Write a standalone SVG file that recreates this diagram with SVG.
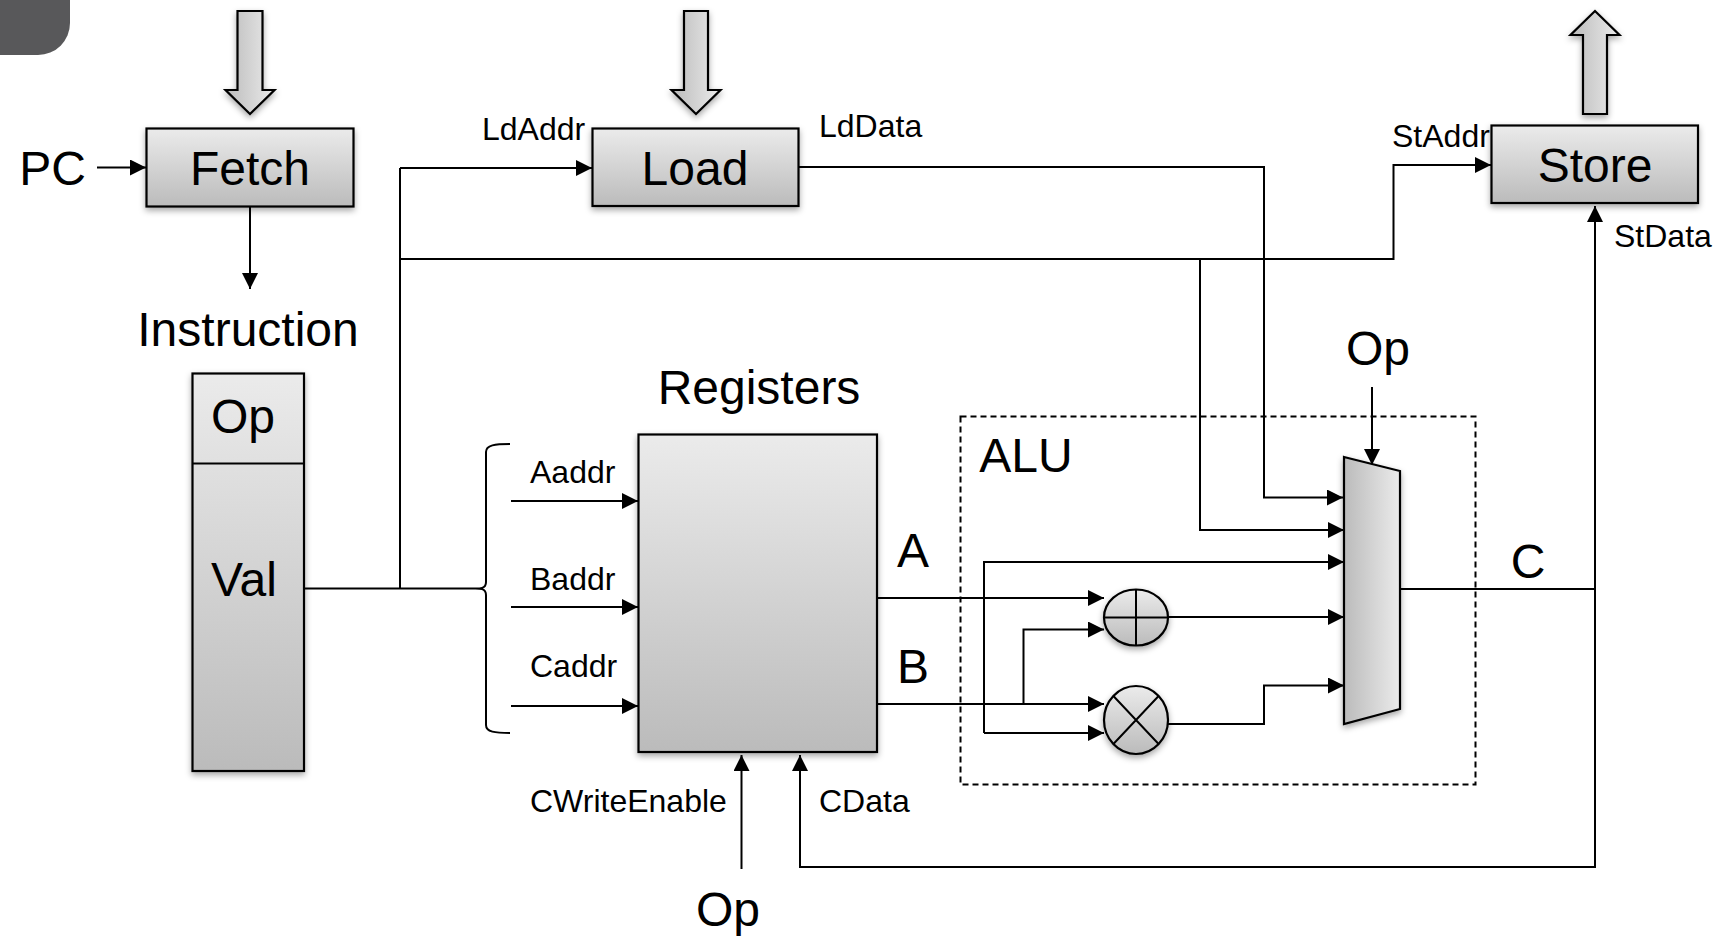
<svg xmlns="http://www.w3.org/2000/svg" width="1721" height="937" viewBox="0 0 1721 937">
<style>
text{font-family:"Liberation Sans",Arial,sans-serif;fill:#000}
.b{font-size:48px;text-anchor:middle}
.s{font-size:32px}
.n{stroke:#000;stroke-width:2.2;filter:url(#sh)}
.v{fill:url(#gv)}
.h{fill:url(#gh)}
.c{fill:none;stroke:#000;stroke-width:2}
.a{marker-end:url(#ah)}
.d{fill:none;stroke:#000;stroke-width:2}
</style>
<defs>
<linearGradient id="gv" x1="0" y1="0" x2="0" y2="1"><stop offset="0" stop-color="#ebebeb"/><stop offset="1" stop-color="#bbb"/></linearGradient>
<linearGradient id="gh" x1="0" y1="0" x2="1" y2="0"><stop offset="0" stop-color="#bbb"/><stop offset="1" stop-color="#ebebeb"/></linearGradient>
<filter id="sh" x="-20%" y="-20%" width="140%" height="140%"><feDropShadow dx="0" dy="3" stdDeviation="3" flood-color="#000" flood-opacity="0.35"/></filter>
<marker id="ah" markerUnits="userSpaceOnUse" markerWidth="17" markerHeight="17" refX="16" refY="8" orient="auto"><path d="M0 0L16 8L0 16Z" fill="#000"/></marker>
</defs>
<path id="corner" d="M0 0H70V23A32 32 0 0 1 38 55H0Z" fill="#58585a"/>
<g id="connectors">
<path class="c a" d="M97 167.500H146"/>
<path class="c a" d="M250 206V289"/>
<path class="c a" d="M400 168H592"/>
<path class="c" d="M304 588.500H470C478 588.500 486 590 486 582V452C486 445 495 444 510 444M470 588.500C478 588.500 486 587 486 595V725C486 732 495 733 510 733"/>
<path class="c" d="M400 168V588"/>
<path class="c a" d="M400 259H1393.500V165H1491"/>
<path class="c a" d="M798 167H1264V497.500H1343"/>
<path class="c a" d="M1200 259V530H1344"/>
<path class="c a" d="M984 733V562H1344"/>
<path class="c a" d="M984 733H1104"/>
<path class="c a" d="M877 598H1104"/>
<path class="c a" d="M877 704H1104"/>
<path class="c a" d="M1023.500 704V629.500H1104"/>
<path class="c a" d="M1168 617H1344"/>
<path class="c a" d="M1168 724H1264V685.500H1344"/>
<path class="c a" d="M1372 387V465"/>
<path class="c" d="M1400 589H1595"/>
<path class="c a" d="M1595 868V206"/>
<path class="c a" d="M1595 867H800V755"/>
<path class="c a" d="M741.500 869V755"/>
<path class="c a" d="M511 501H638"/>
<path class="c a" d="M511 607H638"/>
<path class="c a" d="M511 706H638"/>
</g>
<g id="fetch-arrow"><path class="n h" d="M237.500 11H262.500V90H274.500L250 114L225.500 90H237.500Z"/></g>
<g id="load-arrow"><path class="n h" d="M684 11H708V90H720.500L696 114L671.500 90H684Z"/></g>
<g id="store-arrow"><path class="n h" d="M1583 114H1607V35H1619.500L1595 11L1570.500 35H1583Z"/></g>
<g id="fetch"><rect class="n v" x="146.500" y="128.500" width="207" height="78"/><text class="b" x="250" y="185">Fetch</text></g>
<g id="load"><rect class="n v" x="592.500" y="128.500" width="206" height="77.500"/><text class="b" x="695" y="185">Load</text></g>
<g id="store"><rect class="n v" x="1491.500" y="125.500" width="206.500" height="77.500"/><text class="b" x="1595" y="182">Store</text></g>
<g id="instruction"><rect class="n v" x="192.500" y="373.500" width="111.500" height="397.500"/><path class="c" d="M192.500 463.500H304"/><text class="b" x="243" y="433">Op</text><text class="b" x="244" y="596">Val</text></g>
<g id="registers"><rect class="n v" x="638.500" y="434.500" width="238.500" height="317.500"/></g>
<g id="adder"><ellipse class="n v" cx="1136" cy="617.500" rx="32" ry="28"/><path class="d" d="M1104 617.500H1168M1136 589.500V645.500"/></g>
<g id="multiplier"><ellipse class="n v" cx="1136" cy="720" rx="32" ry="34"/><path class="d" d="M1113.400 696L1158.600 744M1158.600 696L1113.400 744"/></g>
<g id="mux"><path class="n h" d="M1344 457L1400 471V709L1344 724Z"/></g>
<g id="alu"><rect x="960.500" y="416.500" width="515" height="368" fill="none" stroke="#000" stroke-width="2" stroke-dasharray="6 4"/></g>
<g id="labels">
<text class="b" x="52.500" y="184.500">PC</text>
<text class="b" x="248" y="346">Instruction</text>
<text class="b" x="759" y="404">Registers</text>
<text class="b" x="1026" y="472">ALU</text>
<text class="b" x="913" y="567">A</text>
<text class="b" x="913" y="683">B</text>
<text class="b" x="1528" y="578">C</text>
<text class="b" x="1378" y="365">Op</text>
<text class="b" x="728" y="926">Op</text>
<text class="s" x="482" y="140">LdAddr</text>
<text class="s" x="819" y="137">LdData</text>
<text class="s" x="1392" y="147">StAddr</text>
<text class="s" x="1614" y="247">StData</text>
<text class="s" x="530" y="483">Aaddr</text>
<text class="s" x="530" y="590">Baddr</text>
<text class="s" x="530" y="677">Caddr</text>
<text class="s" x="530" y="812">CWriteEnable</text>
<text class="s" x="819" y="812">CData</text>
</g>
</svg>
